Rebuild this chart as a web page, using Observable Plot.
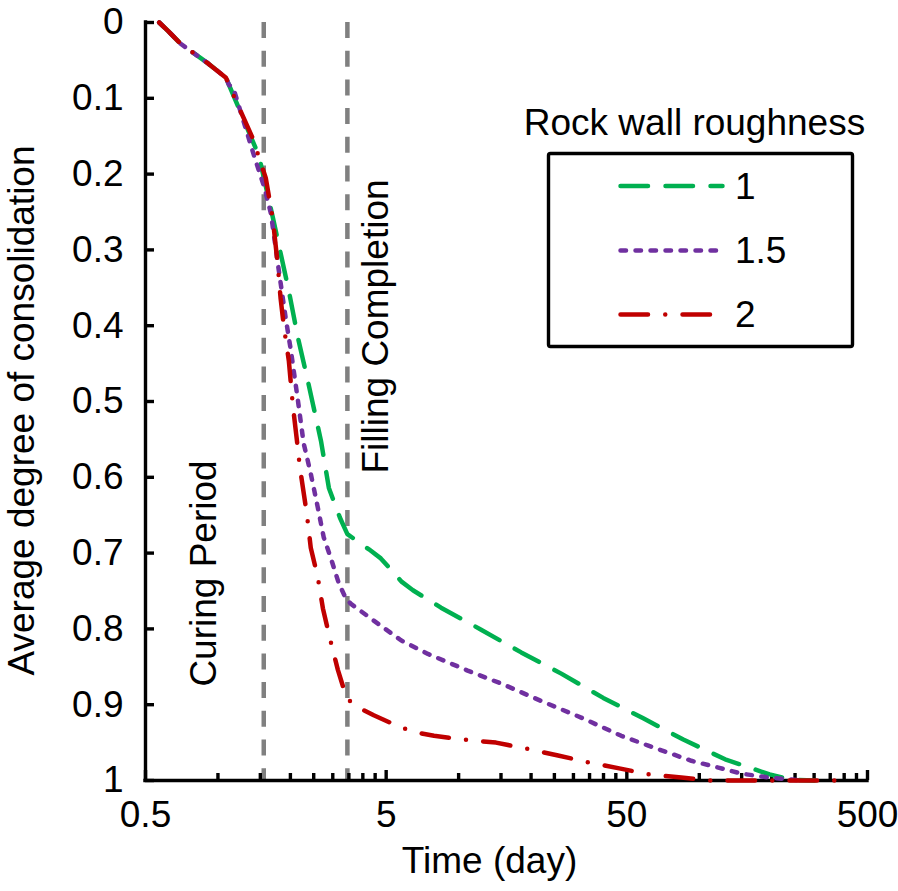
<!DOCTYPE html>
<html>
<head>
<meta charset="utf-8">
<script src="https://cdn.jsdelivr.net/npm/d3@7"></script>
<script src="https://cdn.jsdelivr.net/npm/@observablehq/plot@0.6"></script>
<style>
html, body { margin: 0; padding: 0; background: #fff; }
#chart { width: 898px; height: 891px; }
</style>
</head>
<body>
<div id="chart"></div>
<script>
// ---------- data ----------
const seriesNames = ["1", "1.5", "2"];
const seriesColors = ["#00B050", "#7030A0", "#C00000"];
const legendTitle = "Rock wall roughness";

const timeR1 = [0.57, 0.62, 0.70, 0.91, 1.08, 1.11, 1.48, 1.69, 1.97, 2.15, 2.36, 2.68, 2.89, 3.21, 3.45, 4.24, 4.75, 5.81, 6.46, 8.45, 12.4, 18.2, 26.7, 39.9, 58.5, 85.8, 128, 196, 242, 301];
const degreeR1 = [0, 0.011, 0.028, 0.054, 0.073, 0.082, 0.176, 0.257, 0.354, 0.416, 0.472, 0.552, 0.614, 0.653, 0.675, 0.695, 0.707, 0.738, 0.749, 0.772, 0.801, 0.831, 0.859, 0.891, 0.918, 0.946, 0.972, 0.992, 0.999, 1.0];

const timeR15 = [0.57, 0.62, 0.70, 0.91, 1.08, 1.11, 1.16, 1.42, 1.56, 1.66, 1.79, 1.91, 2.01, 2.15, 2.27, 2.43, 2.60, 2.75, 2.94, 3.18, 3.40, 3.57, 4.62, 5.76, 7.46, 10.9, 15.0, 22.0, 32.3, 47.4, 61.4, 92.7, 120, 150, 194, 266];
const degreeR15 = [0, 0.011, 0.028, 0.054, 0.073, 0.082, 0.087, 0.178, 0.218, 0.252, 0.327, 0.389, 0.433, 0.499, 0.555, 0.595, 0.640, 0.679, 0.706, 0.740, 0.760, 0.767, 0.793, 0.815, 0.833, 0.855, 0.872, 0.895, 0.917, 0.941, 0.954, 0.974, 0.983, 0.991, 0.996, 1.0];

const timeR2 = [0.57, 0.62, 0.70, 0.91, 1.08, 1.11, 1.13, 1.41, 1.48, 1.58, 1.69, 1.77, 1.82, 1.88, 1.97, 2.05, 2.13, 2.19, 2.34, 2.43, 2.60, 2.73, 2.92, 3.15, 3.43, 3.85, 4.44, 5.76, 6.78, 7.90, 10.5, 14.3, 19.1, 25.9, 34.5, 46.5, 62.0, 84.2, 112, 365];
const degreeR2 = [0, 0.011, 0.028, 0.054, 0.073, 0.082, 0.088, 0.156, 0.178, 0.205, 0.259, 0.318, 0.363, 0.402, 0.446, 0.507, 0.552, 0.587, 0.648, 0.693, 0.732, 0.773, 0.813, 0.854, 0.892, 0.904, 0.914, 0.930, 0.937, 0.941, 0.946, 0.950, 0.958, 0.967, 0.976, 0.984, 0.992, 0.996, 1.0, 1.0];

const eventTimes = [1.55, 3.45];
const eventLabels = ["Curing Period", "Filling Completion"];

const xMajorTicks = [0.5, 5, 50, 500];
const xMajorLabels = ["0.5", "5", "50", "500"];
const xMinorTicks = [1, 1.5, 2, 2.5, 3, 3.5, 4, 4.5, 10, 15, 20, 25, 30, 35, 40, 45, 100, 150, 200, 250, 300, 350, 400, 450];
const yTicks = [0, 0.1, 0.2, 0.3, 0.4, 0.5, 0.6, 0.7, 0.8, 0.9, 1];
const yTickLabels = ["0", "0.1", "0.2", "0.3", "0.4", "0.5", "0.6", "0.7", "0.8", "0.9", "1"];
const xTitle = "Time (day)";
const yTitle = "Average degree of consolidation";

// ---------- build ----------
const toRows = (ts, us) => ts.map((t, i) => ({t, u: us[i]}));
const seriesRows = [toRows(timeR1, degreeR1), toRows(timeR15, degreeR15), toRows(timeR2, degreeR2)];
const dashes = ["27.5,17.5", "5.5,9.5", "27.5,17.25,0,17.25"];
const xLabelMap = new Map(xMajorTicks.map((v, i) => [v, xMajorLabels[i]]));
const yLabelMap = new Map(yTicks.map((v, i) => [v, yTickLabels[i]]));
const FS = 37;
const AW = 3.4;

const lineMarks = seriesRows.map((rows, i) => Plot.line(rows, {
  x: "t", y: "u", stroke: seriesColors[i], strokeWidth: 4.5,
  strokeDasharray: dashes[i], strokeLinecap: "round", strokeLinejoin: "round"
}));

const svg = Plot.plot({
  width: 898, height: 891,
  marginLeft: 145, marginRight: 31, marginTop: 22, marginBottom: 111,
  style: {fontFamily: "'Liberation Sans', Arial, sans-serif", fontSize: FS + "px", color: "black", background: "white", overflow: "visible"},
  x: {type: "log", domain: [xMajorTicks[0], xMajorTicks[xMajorTicks.length - 1]]},
  y: {domain: [yTicks[0], yTicks[yTicks.length - 1]], reverse: true},
  marks: [
    Plot.ruleX(eventTimes, {x: d => d, stroke: "#808080", strokeWidth: 4.5, strokeDasharray: "16,12.7"}),
    Plot.ruleX([xMajorTicks[0]], {stroke: "black", strokeWidth: AW, strokeLinecap: "square"}),
    Plot.ruleY([yTicks[yTicks.length - 1]], {stroke: "black", strokeWidth: AW, strokeLinecap: "square"}),
    Plot.axisY(yTicks, {tickSize: -9, tickPadding: 31, strokeWidth: AW, text: d => yLabelMap.get(d), label: null, fontSize: FS}),
    Plot.axisX(xMajorTicks, {tickSize: -10, tickPadding: 30, strokeWidth: AW, text: d => xLabelMap.get(d), label: null, fontSize: FS}),
    Plot.axisX(xMinorTicks, {tickSize: -7, strokeWidth: AW, fill: "none", label: null}),
    ...lineMarks,
    Plot.text([xTitle], {text: d => d, frameAnchor: "bottom", textAnchor: "middle", lineAnchor: "middle", dx: -17, dy: 81, fontSize: FS}),
    Plot.text([yTitle], {text: d => d, frameAnchor: "left", textAnchor: "middle", lineAnchor: "middle", rotate: -90, dx: -123, dy: 9, fontSize: FS}),
    Plot.text([eventTimes[0]], {x: d => d, text: () => eventLabels[0], frameAnchor: "middle", textAnchor: "middle", lineAnchor: "middle", rotate: -90, dx: -60, dy: 172, fontSize: FS}),
    Plot.text([eventTimes[1]], {x: d => d, text: () => eventLabels[1], frameAnchor: "middle", textAnchor: "middle", lineAnchor: "middle", rotate: -90, dx: 29, dy: -75, fontSize: FS})
  ]
});

// ---------- legend ----------
const g = d3.select(svg).append("g").attr("class", "legend");
g.append("text").attr("x", 694.5).attr("y", 135).attr("text-anchor", "middle")
  .attr("font-size", FS).attr("fill", "black").text(legendTitle);
g.append("rect").attr("x", 548.5).attr("y", 153.5).attr("width", 304).attr("height", 193)
  .attr("rx", 2).attr("fill", "white").attr("stroke", "black").attr("stroke-width", AW);
const itemY = [186, 250.5, 314.5];
seriesNames.forEach((name, i) => {
  g.append("line").attr("x1", 620.5).attr("x2", 722.5).attr("y1", itemY[i]).attr("y2", itemY[i])
    .attr("stroke", seriesColors[i]).attr("stroke-width", 4.5).attr("stroke-linecap", "round")
    .attr("stroke-dasharray", dashes[i]);
  g.append("text").attr("x", 735).attr("y", itemY[i] + 12.5).attr("font-size", FS)
    .attr("text-anchor", "start").attr("fill", "black").text(name);
});

document.getElementById("chart").appendChild(svg);
</script>
</body>
</html>
